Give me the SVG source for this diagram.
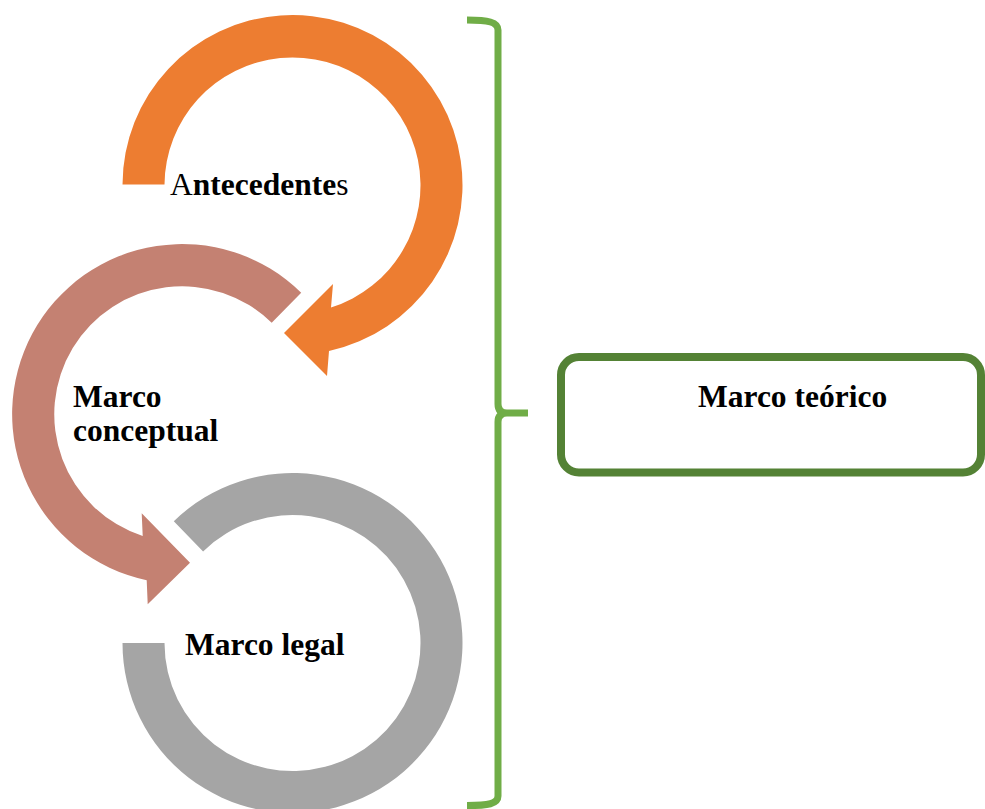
<svg xmlns="http://www.w3.org/2000/svg" width="985" height="809" viewBox="0 0 985 809">
<style>
.lbl{font-family:"Liberation Serif","Times New Roman",serif;font-size:31.5px;font-weight:bold;fill:#000}
.reg{font-weight:normal}
.brace{fill:none;stroke:#70AD47;stroke-width:7;stroke-linejoin:round;stroke-linecap:butt}
</style>
<rect width="985" height="809" fill="#fff"/>
<g id="antecedentes">
<path d="M122.5 184.5 A170 170 0 1 1 329 351 L327 376 L284 333 L333 284 L331 307.5 A128 128 0 1 0 164.5 184.5 Z" fill="#ED7D31"/>
<text class="lbl" x="170" y="195"><tspan class="reg">A</tspan>ntecedente<tspan class="reg">s</tspan></text>
</g>
<g id="marco-conceptual">
<path d="M301.2 292.7 A170 170 0 1 0 146.7 580.3 L147.7 604.3 L190 562.7 L141.7 513.3 L142.7 536 A128 128 0 1 1 271.7 322.7 Z" fill="#C48172"/>
<text class="lbl" x="73" y="407">Marco</text>
<text class="lbl" x="73" y="441">conceptual</text>
</g>
<g id="marco-legal">
<path d="M173.8 521.3 A170 170 0 1 1 122.5 643 L164.5 643 A128 128 0 1 0 203.1 551.4 Z" fill="#A5A5A5"/>
<text class="lbl" x="185" y="655">Marco legal</text>
</g>
<g id="connectors">
<path class="brace" d="M467 20 C488 20 498 22 498 30 L498 404 Q498 413 507 413 L528 413 M507 413 Q498 413 498 422 L498 796 C498 804 488 805.5 467 805.5"/>
</g>
<g id="marco-teorico">
<rect x="561" y="357" width="420" height="115.5" rx="18" ry="18" fill="none" stroke="#548235" stroke-width="8"/>
<text class="lbl" x="698" y="407">Marco teórico</text>
</g>
</svg>
